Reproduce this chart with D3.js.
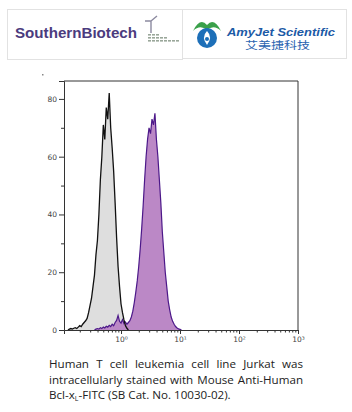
<!DOCTYPE html>
<html>
<head>
<meta charset="utf-8">
<script src="https://cdnjs.cloudflare.com/ajax/libs/d3/7.8.5/d3.min.js"></script>
<style>
  body { margin: 0; background: #fff; }
  #chart svg { display: block; }
</style>
</head>
<body>
<div id="chart"></div>
<script>
// Data (x in log10 of fluorescence intensity, y in cell count)
const controlLog = [-0.900, -0.875, -0.850, -0.825, -0.800, -0.775, -0.750, -0.725, -0.700, -0.675,
  -0.650, -0.625, -0.600, -0.575, -0.550, -0.525, -0.500, -0.475, -0.450, -0.425,
  -0.400, -0.375, -0.350, -0.325, -0.300, -0.275, -0.250, -0.225, -0.200, -0.175,
  -0.150, -0.125, -0.100, -0.075, -0.050, -0.025, 0.000, 0.025, 0.050, 0.075, 0.100, 0.125];
const controlCount = [0, 0.3, 0.5, 0.3, 0.6, 0.8, 0.5, 1.0, 1.5, 1.2,
  2.0, 2.6, 3.2, 4.0, 6.0, 8.5, 11, 15, 19, 26,
  31, 40, 52, 60, 71, 66, 77, 73, 82, 70,
  63, 55, 44, 32, 22, 15, 9, 6, 3.5, 1.5, 0.6, 0];

const stainedLog = [-0.450, -0.425, -0.400, -0.375, -0.350, -0.325, -0.300, -0.275, -0.250, -0.225,
  -0.200, -0.175, -0.150, -0.125, -0.100, -0.075, -0.050, -0.025, 0.000, 0.025,
  0.050, 0.075, 0.100, 0.125, 0.150, 0.175, 0.200, 0.225, 0.250, 0.275,
  0.300, 0.325, 0.350, 0.375, 0.400, 0.425, 0.450, 0.475, 0.500, 0.525,
  0.550, 0.575, 0.600, 0.625, 0.650, 0.675, 0.700, 0.725, 0.750, 0.775,
  0.800, 0.825, 0.850, 0.875, 0.900, 0.925, 0.950, 0.975, 1.000, 1.025];
const stainedCount = [0, 0.3, 0.5, 0.3, 0.8, 0.5, 1.0, 0.7, 1.3, 1.0,
  1.6, 1.2, 2.0, 1.5, 2.6, 3.3, 5.0, 3.0, 2.4, 3.6,
  2.2, 2.8, 2.0, 2.6, 3.2, 4.5, 6.5, 9.5, 13, 17,
  22, 28, 35, 43, 52, 60, 66, 70, 68, 73,
  71, 75, 66, 60, 52, 44, 34, 27, 20, 15,
  10, 7, 4.5, 3, 2, 1.2, 0.7, 0.4, 0.2, 0];

const yTicks = [0, 20, 40, 60, 80];
const yMinorTicks = [10, 30, 50, 70];
const xTicks = [1, 10, 100, 1000];
const xTickLabels = ['10\u2070', '10\u00b9', '10\u00b2', '10\u00b3'];

const captionLines = [
  'Human T cell leukemia cell line Jurkat was',
  'intracellularly stained with Mouse Anti-Human'
];

const W = 352, H = 412;
const svg = d3.select('#chart').append('svg')
  .attr('width', W).attr('height', H)
  .style('font-family', '"Liberation Sans", Arial, sans-serif');

// ---- header logos ----
const head = svg.append('g');
head.append('rect').attr('x', 7.5).attr('y', 9.5).attr('width', 175).attr('height', 50)
  .attr('fill', '#fff').attr('stroke', '#e2e2e2');
head.append('rect').attr('x', 182.5).attr('y', 9.5).attr('width', 164).attr('height', 49)
  .attr('fill', '#fff').attr('stroke', '#e2e2e2');

head.append('text').attr('x', 15).attr('y', 38)
  .attr('textLength', 122).attr('lengthAdjust', 'spacingAndGlyphs')
  .style('font-size', '15px').style('font-weight', 'bold').attr('fill', '#4b3b7e')
  .text('SouthernBiotech');

// small antibody + bars icon
const ic = head.append('g').attr('stroke', '#8c8aa0').attr('stroke-width', 1.4).attr('fill', 'none');
ic.append('path').attr('d', 'M145,21 L151,21 L151,33 M151,21 L157,16');
const bars = head.append('g').attr('fill', '#9aa79a');
[[148, 34, 12], [148, 37, 20], [148, 40, 31]].forEach(([bx, by, bw]) => {
  for (let k = 0; k < bw; k += 4) {
    bars.append('rect').attr('x', bx + k).attr('y', by).attr('width', 3).attr('height', 1.6);
  }
});

// AmyJet logo mark
const lg = head.append('g');
lg.append('path').attr('d', 'M193,31 Q200,17 207,25 Q214,17 221,31 Q214,24 207,30 Q200,24 193,31 Z')
  .attr('fill', '#3aa04a');
lg.append('circle').attr('cx', 207).attr('cy', 38).attr('r', 10).attr('fill', '#1d6fb8');
lg.append('path').attr('d', 'M207,31 Q213,37 207,45 Q201,37 207,31 Z').attr('fill', '#fff');
lg.append('circle').attr('cx', 207).attr('cy', 39).attr('r', 2).attr('fill', '#1d6fb8');

head.append('text').attr('x', 227).attr('y', 36)
  .attr('textLength', 108).attr('lengthAdjust', 'spacingAndGlyphs')
  .style('font-size', '11.5px').style('font-weight', 'bold').style('font-style', 'italic')
  .attr('fill', '#1c5aa6').text('AmyJet Scientific');
head.append('text').attr('x', 245).attr('y', 49)
  .attr('textLength', 65).attr('lengthAdjust', 'spacingAndGlyphs')
  .style('font-family', '"Noto Sans CJK SC", sans-serif')
  .style('font-size', '10px').attr('fill', '#2a64b0').text('艾美捷科技');

// ---- histogram plot ----
const x = d3.scaleLog().domain([0.108, 1000]).range([64, 298]);
const y = d3.scaleLinear().domain([0, 86.2]).range([330, 81]);

const plot = svg.append('g');

const area = d3.area()
  .x(d => x(Math.pow(10, d[0])))
  .y0(y(0))
  .y1(d => y(d[1]));
const line = d3.line()
  .x(d => x(Math.pow(10, d[0])))
  .y(d => y(d[1]));

const control = controlLog.map((v, i) => [v, controlCount[i]]);
const stained = stainedLog.map((v, i) => [v, stainedCount[i]]);

plot.append('path').datum(control).attr('d', area).attr('fill', '#dedede');
plot.append('path').datum(stained).attr('d', area).attr('fill', '#bb88c6');
plot.append('path').datum(stained).attr('d', line)
  .attr('fill', 'none').attr('stroke', '#4c1889').attr('stroke-width', 1.2);
plot.append('path').datum(control).attr('d', line)
  .attr('fill', 'none').attr('stroke', '#111').attr('stroke-width', 1.3);

// frame (top and right)
plot.append('path').attr('d', `M${x.range()[0]},${y(86.2)} H${x.range()[1]} V${y(0)}`)
  .attr('fill', 'none').attr('stroke', '#333').attr('stroke-width', 1);

// y axis
svg.append('g').attr('transform', `translate(${x.range()[0]},0)`)
  .call(d3.axisLeft(y).tickValues(yTicks).tickSize(5).tickPadding(2));
svg.append('g').attr('transform', `translate(${x.range()[0]},0)`)
  .call(d3.axisLeft(y).tickValues(yMinorTicks).tickSize(3).tickFormat(''))
  .select('.domain').remove();

// x axis
const xMinor = [];
[0.1, 1, 10, 100].forEach(dec => {
  for (let m = 2; m <= 9; m++) if (dec * m > 0.108) xMinor.push(dec * m);
});
svg.append('g').attr('transform', `translate(0,${y(0)})`)
  .call(d3.axisBottom(x).tickValues(xTicks).tickSize(4).tickPadding(3)
    .tickFormat((d, i) => xTickLabels[i]));
svg.append('g').attr('transform', `translate(0,${y(0)})`)
  .call(d3.axisBottom(x).tickValues(xMinor).tickSize(2.5).tickFormat(''))
  .select('.domain').remove();

svg.selectAll('.tick line, .domain').attr('stroke', '#333');
svg.selectAll('.tick text').attr('fill', '#444')
  .style('font-size', '7.5px').style('font-family', '"DejaVu Sans", sans-serif');

// little stray dot at the top-left corner of the plot
svg.append('rect').attr('x', 42).attr('y', 74).attr('width', 1.5).attr('height', 1.5).attr('fill', '#888');

// ---- caption ----
const cap = svg.append('g').attr('fill', '#222')
  .style('font-family', '"Open Sans", sans-serif').style('font-size', '11.6px');
const capW = 254;
captionLines.forEach((t, i) => {
  const tx = cap.append('text').attr('x', 49).attr('y', 368 + i * 15.5).text(t);
  const w = tx.node().getComputedTextLength();
  const gaps = t.split(' ').length - 1;
  tx.style('word-spacing', ((capW - w) / gaps) + 'px');
});
const last = cap.append('text').attr('x', 49).attr('y', 399);
last.append('tspan').text('Bcl-x');
last.append('tspan').attr('dy', 2).style('font-size', '7px').text('L');
last.append('tspan').attr('dy', -2).text('-FITC (SB Cat. No. 10030-02).');
</script>
</body>
</html>
